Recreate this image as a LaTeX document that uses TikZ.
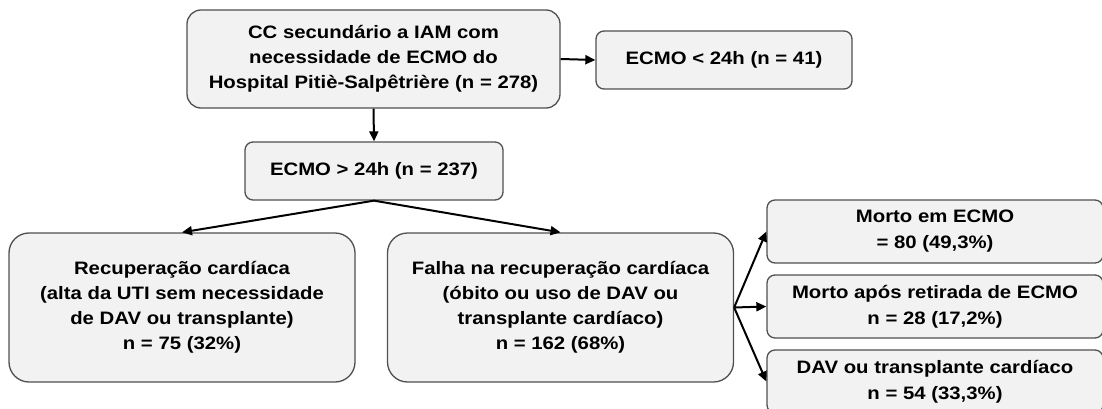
\documentclass[tikz,border=0pt]{standalone}
\usepackage{fontspec}
\setmainfont{Liberation Sans}[FakeStretch=1.13]
\usepackage{tikz}
\usetikzlibrary{arrows.meta, positioning}
\definecolor{boxfill}{RGB}{242, 242, 242}
\definecolor{boxline}{RGB}{80, 80, 80}

\begin{document}
\begin{tikzpicture}[
    x=1pt, y=-1pt,
    box/.style={draw=boxline, line width=1.3pt, fill=boxfill, align=center, inner sep=0pt, font=\fontsize{18}{25}\selectfont\bfseries},
    tall/.style={box, rounded corners=20pt, minimum width=346pt, minimum height=149pt},
    side/.style={box, rounded corners=8pt, minimum width=336pt, minimum height=63pt, font=\fontsize{18}{26}\selectfont\bfseries},
    flow/.style={line width=2pt, -{Triangle[length=10pt, width=9pt]}},
]
    \useasboundingbox (0, 0) rectangle (1102, 409);

    % Cohort
    \node[box, rounded corners=14pt, minimum width=373pt, minimum height=98pt] (cohort) at (373.5, 59) {CC secundário a IAM com\\necessidade de ECMO do\\Hospital Pitiè-Salpêtrière (n = 278)};
    \node[box, rounded corners=8pt, minimum width=256pt, minimum height=58pt] (short) at (724, 60) {ECMO < 24h (n = 41)};
    \node[box, rounded corners=8pt, minimum width=258pt, minimum height=58pt] (long) at (374, 171) {ECMO > 24h (n = 237)};

    % Outcomes
    \node[tall] (recovery) at (182, 307.5) {Recuperação cardíaca\\(alta da UTI sem necessidade\\de DAV ou transplante)\\n = 75 (32\%)};
    \node[tall] (failure) at (560.5, 307.5) {Falha na recuperação cardíaca\\(óbito ou uso de DAV ou\\transplante cardíaco)\\n = 162 (68\%)};

    % Failure details
    \node[side] (deadecmo) at (935, 231.5) {Morto em ECMO\\= 80 (49,3\%)};
    \node[side] (deadafter) at (935, 306.5) {Morto após retirada de ECMO\\n = 28 (17,2\%)};
    \node[side] (vad) at (935, 381.5) {DAV ou transplante cardíaco\\n = 54 (33,3\%)};

    % Arrows
    \draw[flow] (cohort.east) -- (short.west);
    \draw[flow] (cohort.south) -- (long.north);
    \draw[flow] (long.south) -- (recovery.north);
    \draw[flow] (long.south) -- (failure.north);
    \draw[flow] (failure.east) -- (deadecmo.west);
    \draw[flow] (failure.east) -- (deadafter.west);
    \draw[flow] (failure.east) -- (vad.west);
\end{tikzpicture}
\end{document}
